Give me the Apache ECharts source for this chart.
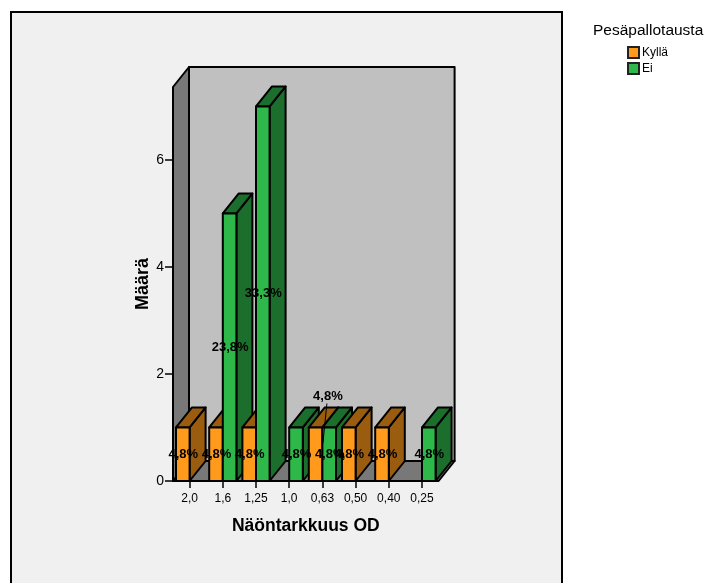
<!DOCTYPE html>
<html>
<head>
<meta charset="utf-8">
<title>Näöntarkkuus OD</title>
<script src="https://cdn.jsdelivr.net/npm/echarts@6/dist/echarts.min.js"></script>
<style>
html, body { margin: 0; padding: 0; background: #fff; }
#chart { width: 704px; height: 583px; }
</style>
</head>
<body>
<div id="chart"></div>
<script>
// luetut arvot
var categories = ['2,0', '1,6', '1,25', '1,0', '0,63', '0,50', '0,40', '0,25'];
var kylla = [1, 1, 1, null, 1, 1, 1, null];
var ei = [null, 5, 7, 1, 1, null, null, 1];
var total = 21;
var yTicks = [0, 2, 4, 6];

var FONT = '"Liberation Sans", Arial, sans-serif';
var DEPTH_X = 16, DEPTH_Y = -20;
var BAR_W = 13.6;
var LINE_W = 2;

function poly(points, fill, z2) {
	return {
		type: 'polygon',
		z2: z2,
		shape: { points: points },
		style: { fill: fill, stroke: '#000', lineWidth: LINE_W, lineJoin: 'round' }
	};
}

// seinät ja lattia
function render_walls(params, api) {
	var c = params.coordSys;
	var l = c.x, r = c.x + c.width, t = c.y, b = c.y + c.height;
	var dx = DEPTH_X, dy = DEPTH_Y;
	return {
		type: 'group',
		children: [
			poly([[l + dx, t + dy], [r + dx, t + dy], [r + dx, b + dy], [l + dx, b + dy]], '#c0c0c0', 1),
			poly([[l, t], [l + dx, t + dy], [l + dx, b + dy], [l, b]], '#787878', 2),
			poly([[l, b], [l + dx, b + dy], [r + dx, b + dy], [r, b]], '#787878', 2)
		]
	};
}

// 3D-pylväs, järjestys vasemmalta oikealle
function bar_renderer(side, front, dark) {
	return function(params, api) {
		var idx = api.value(0);
		var value = api.value(1);
		var p0 = api.coord([idx, 0]);
		var p1 = api.coord([idx, value]);
		var x0 = side < 0 ? p0[0] - BAR_W : p0[0];
		var x1 = x0 + BAR_W;
		var yb = p0[1], yt = p1[1];
		var z = 10 + idx * 4 + (side < 0 ? 0 : 2);
		var dx = DEPTH_X, dy = DEPTH_Y;
		var pct = (value * 100 / total).toFixed(1).replace('.', ',') + '%';
		var labelX = (x0 + x1) / 2 + 0.5;
		var labelY = (yb + yt) / 2;
		var children = [
			poly([[x1, yt], [x1 + dx, yt + dy], [x1 + dx, yb + dy], [x1, yb]], dark, z),
			poly([[x0, yt], [x0 + dx, yt + dy], [x1 + dx, yt + dy], [x1, yt]], dark, z),
			poly([[x0, yt], [x1, yt], [x1, yb], [x0, yb]], front, z + 1)
		];
		// 0,63 Kyllä: nimiö siirretty ylös, viivalla kiinni pylväässä
		if (side < 0 && categories[idx] === '0,63') {
			labelX = x1 + 5.5;
			labelY = yt - 31;
			children.push({
				type: 'line',
				z2: 200,
				shape: { x1: x1 + 4.5, y1: yt - 24, x2: x1 + 0.5, y2: yt + 16 },
				style: { stroke: '#000', lineWidth: 1 }
			});
		}
		children.push({
			type: 'text',
			z2: 300,
			style: {
				x: labelX,
				y: labelY,
				text: pct,
				fill: '#000',
				font: 'bold 13px ' + FONT,
				align: 'center',
				verticalAlign: 'middle'
			}
		});
		return { type: 'group', children: children };
	};
}

function series_data(values) {
	var out = [];
	values.forEach(function(v, i) {
		if (v !== null) {
			out.push([i, v]);
		}
	});
	return out;
}

var myChart = echarts.init(document.getElementById('chart'));
myChart.setOption({
	animation: false,
	backgroundColor: '#fff',
	textStyle: { fontFamily: FONT },
	title: {
		text: 'Pesäpallotausta',
		left: 593,
		top: 23,
		padding: 0,
		textStyle: { fontSize: 15.5, fontWeight: 'normal', color: '#000', fontFamily: FONT }
	},
	legend: {
		orient: 'vertical',
		left: 627,
		top: 46,
		padding: 0,
		itemWidth: 11,
		itemHeight: 11,
		itemGap: 3,
		data: [
			{ name: 'Kyllä', icon: 'rect' },
			{ name: 'Ei', icon: 'rect' }
		],
		textStyle: { fontSize: 12, color: '#000', fontFamily: FONT, padding: [0, 0, 0, -2] }
	},
	graphic: [{
		type: 'rect',
		z: -10,
		shape: { x: 11, y: 12, width: 551, height: 600 },
		style: { fill: '#f0f0f0', stroke: '#000', lineWidth: 2 }
	}],
	grid: { left: 173, top: 87, width: 265.6, height: 394 },
	xAxis: {
		type: 'category',
		data: categories,
		name: 'Näöntarkkuus OD',
		nameLocation: 'middle',
		nameGap: 36,
		nameTextStyle: { fontSize: 17.5, fontWeight: 'bold', color: '#000', fontFamily: FONT },
		axisLine: { show: false },
		axisTick: { show: true, alignWithLabel: true, length: 7, lineStyle: { color: '#000', width: 1.5 } },
		axisLabel: { fontSize: 12, color: '#000', margin: 12, interval: 0, fontFamily: FONT }
	},
	yAxis: {
		type: 'value',
		min: 0,
		max: 7.364,
		interval: 2,
		name: 'Määrä',
		nameLocation: 'middle',
		nameGap: 19,
		nameTextStyle: { fontSize: 18, fontWeight: 'bold', color: '#000', fontFamily: FONT },
		splitLine: { show: false },
		axisLine: { show: false },
		axisTick: { show: true, customValues: yTicks, length: 8, lineStyle: { color: '#000', width: 1.5 } },
		axisLabel: { fontSize: 14, color: '#000', margin: 9, customValues: yTicks, fontFamily: FONT }
	},
	series: [
		{
			type: 'custom',
			name: 'seinät',
			silent: true,
			z: 1,
			data: [[0, 0]],
			renderItem: render_walls
		},
		{
			type: 'custom',
			name: 'Kyllä',
			z: 2,
			itemStyle: { color: '#ff9a1c', borderColor: '#222', borderWidth: 1.5 },
			data: series_data(kylla),
			encode: { x: 0, y: 1 },
			renderItem: bar_renderer(-1, '#ff9a1c', '#9a5d10')
		},
		{
			type: 'custom',
			name: 'Ei',
			z: 2,
			itemStyle: { color: '#2fb84a', borderColor: '#222', borderWidth: 1.5 },
			data: series_data(ei),
			encode: { x: 0, y: 1 },
			renderItem: bar_renderer(1, '#2fb84a', '#1c6e2c')
		}
	]
});

window.addEventListener('resize', function() {
	myChart.resize();
});
</script>
</body>
</html>
